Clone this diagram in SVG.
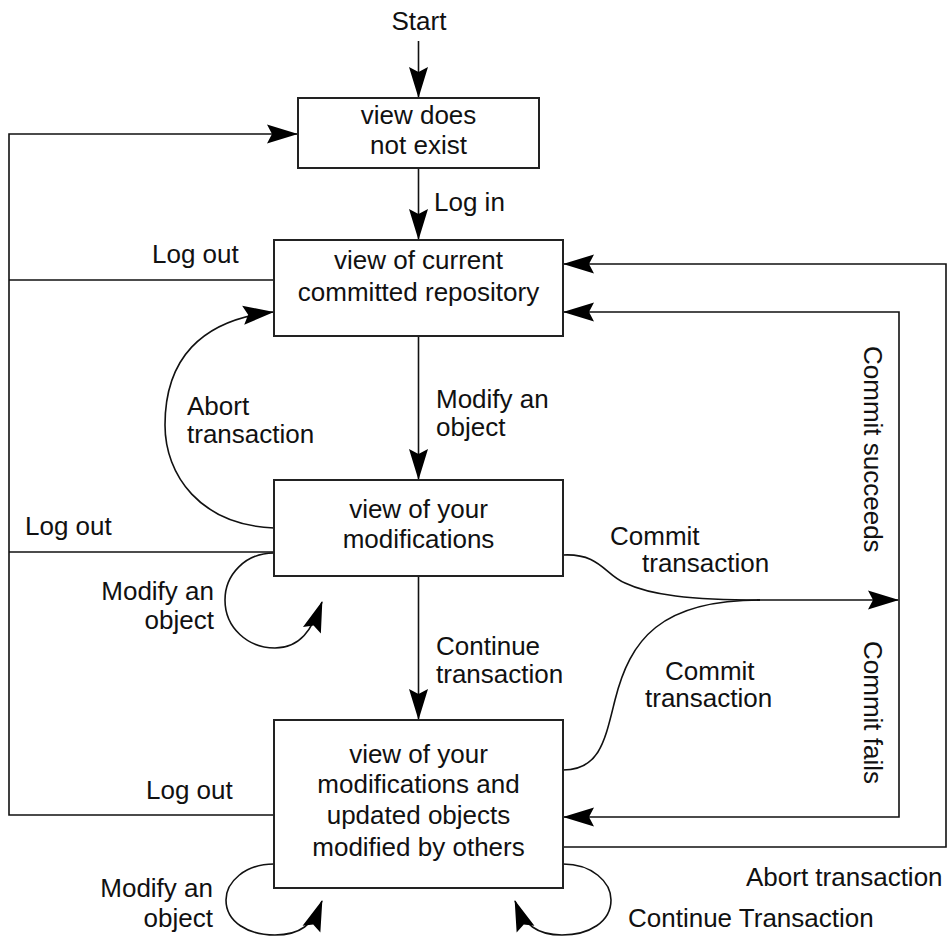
<svg xmlns="http://www.w3.org/2000/svg" width="950" height="938" viewBox="0 0 950 938">
<style>
text{font-family:"Liberation Sans",Arial,sans-serif;font-size:26px;fill:#111}
.c{text-anchor:middle}
.e{text-anchor:end}
.box{fill:#fff;stroke:#222;stroke-width:2}
.ln{fill:none;stroke:#111;stroke-width:1.6}
.arr{marker-end:url(#ah)}
</style>
<defs>
<marker id="ah" markerUnits="userSpaceOnUse" markerWidth="34" markerHeight="24" viewBox="-32 -12 34 24" refX="0" refY="0" orient="auto">
<path d="M1,0 L-30,-9.5 L-25,0 L-30,9.5 Z" fill="#000"/>
</marker>
</defs>
<rect width="950" height="938" fill="#fff"/>
<g id="connectors">
<line class="ln arr" x1="418.5" y1="41" x2="418.5" y2="97"/>
<line class="ln arr" x1="418.5" y1="168" x2="418.5" y2="239"/>
<line class="ln arr" x1="418.5" y1="336" x2="418.5" y2="479"/>
<line class="ln arr" x1="418.5" y1="576" x2="418.5" y2="719"/>
<path class="ln arr" d="M274,815 H9 V134 H297"/>
<path class="ln" d="M274,280 H9"/>
<path class="ln" d="M274,552 H9"/>
<path class="ln arr" d="M563,847 H946 V264 H564"/>
<path class="ln arr" d="M899,600 V312 H564"/>
<path class="ln arr" d="M899,600 V817 H564"/>
<path class="ln arr" d="M757,600 H898"/>
<path class="ln" d="M563,555 C600,553 605,575 625,583 C650,595 690,600 760,600"/>
<path class="ln" d="M563,770 C600,770 605,740 615,700 C630,640 660,600 760,600"/>
<path class="ln arr" d="M274,528 C200,525 165,475 165,425 C165,360 200,320 273,312"/>
<path class="ln arr" d="M274,553 C245,553 225,575 225,600 C225,628 248,648 275,648 C300,648 312,630 322,602"/>
<path class="ln arr" d="M274,864 C245,864 226,882 226,900 C226,922 248,935 275,935 C300,935 313,925 322,901"/>
<path class="ln arr" d="M563,864 C592,864 611,882 611,900 C611,922 589,935 562,935 C537,935 524,925 515,901"/>
</g>
<g id="node-view-not-exist">
<rect class="box" x="298" y="98" width="241" height="70"/>
<text class="c" x="418.5" y="124">view does</text>
<text class="c" x="418.5" y="154">not exist</text>
</g>
<g id="node-current">
<rect class="box" x="274" y="240" width="289" height="96"/>
<text class="c" x="418.5" y="269">view of current</text>
<text class="c" x="418.5" y="301">committed repository</text>
</g>
<g id="node-modifications">
<rect class="box" x="274" y="480" width="289" height="96"/>
<text class="c" x="418.5" y="518">view of your</text>
<text class="c" x="418.5" y="548">modifications</text>
</g>
<g id="node-updated">
<rect class="box" x="274" y="720" width="289" height="168"/>
<text class="c" x="418.5" y="763">view of your</text>
<text class="c" x="418.5" y="793">modifications and</text>
<text class="c" x="418.5" y="824">updated objects</text>
<text class="c" x="418.5" y="856">modified by others</text>
</g>
<g id="labels">
<text class="c" x="419" y="30">Start</text>
<text x="434" y="211">Log in</text>
<text x="152" y="263">Log out</text>
<text x="187" y="415">Abort</text>
<text x="187" y="443">transaction</text>
<text x="436" y="408">Modify an</text>
<text x="436" y="436">object</text>
<text x="25" y="535">Log out</text>
<text class="e" x="214" y="600">Modify an</text>
<text class="e" x="214" y="629">object</text>
<text x="610" y="545">Commit</text>
<text x="642" y="572">transaction</text>
<text x="436" y="655">Continue</text>
<text x="436" y="683">transaction</text>
<text x="665" y="680">Commit</text>
<text x="645" y="707">transaction</text>
<text x="146" y="799">Log out</text>
<text x="746" y="886">Abort transaction</text>
<text class="e" x="213" y="897">Modify an</text>
<text class="e" x="213" y="927">object</text>
<text x="628" y="927">Continue Transaction</text>
<text transform="translate(864,346) rotate(90)">Commit succeeds</text>
<text transform="translate(864,641) rotate(90)">Commit fails</text>
</g>
</svg>
